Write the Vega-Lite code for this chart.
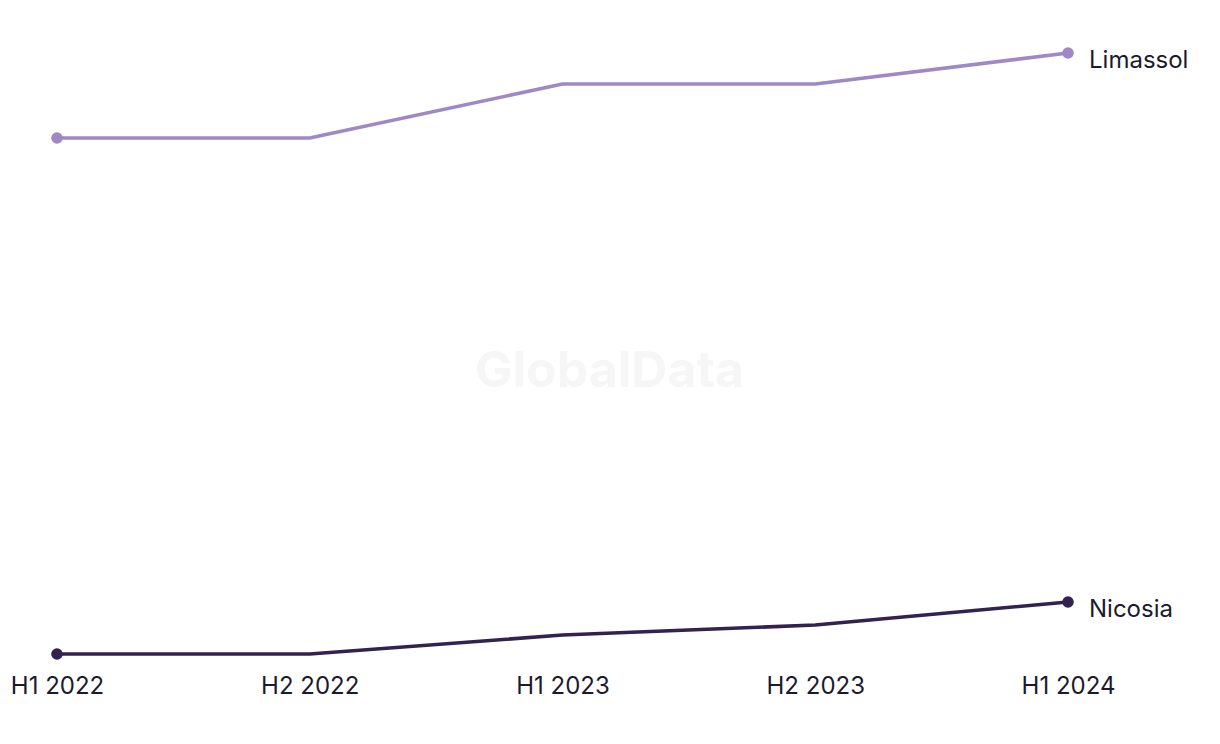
{
  "$schema": "https://vega.github.io/schema/vega-lite/v6.json",
  "autosize": "none",
  "padding": {"left": 57, "top": 53, "right": 152, "bottom": 90},
  "width": 1011,
  "height": 601,
  "background": "white",
  "config": {"view": {"stroke": null}, "font": "Inter"},
  "data": {
    "values": [
      {"period": "H1 2022", "city": "Limassol", "value": 516, "first": true, "last": false},
      {"period": "H2 2022", "city": "Limassol", "value": 516, "first": false, "last": false},
      {"period": "H1 2023", "city": "Limassol", "value": 570, "first": false, "last": false},
      {"period": "H2 2023", "city": "Limassol", "value": 570, "first": false, "last": false},
      {"period": "H1 2024", "city": "Limassol", "value": 601, "first": false, "last": true},
      {"period": "H1 2022", "city": "Nicosia", "value": 0, "first": true, "last": false},
      {"period": "H2 2022", "city": "Nicosia", "value": 0, "first": false, "last": false},
      {"period": "H1 2023", "city": "Nicosia", "value": 19, "first": false, "last": false},
      {"period": "H2 2023", "city": "Nicosia", "value": 29, "first": false, "last": false},
      {"period": "H1 2024", "city": "Nicosia", "value": 52, "first": false, "last": true}
    ]
  },
  "encoding": {
    "x": {
      "field": "period", "type": "ordinal",
      "sort": ["H1 2022", "H2 2022", "H1 2023", "H2 2023", "H1 2024"],
      "scale": {"type": "point", "padding": 0},
      "axis": {"title": null, "domain": false, "ticks": false, "grid": false, "labelAngle": 0,
        "labelFontSize": 24, "labelColor": "#1c1a2e", "labelPadding": 20, "labelFont": "Inter"}
    },
    "y": {
      "field": "value", "type": "quantitative",
      "scale": {"domain": [0, 601], "zero": false, "nice": false},
      "axis": null
    },
    "color": {
      "field": "city", "type": "nominal",
      "scale": {"domain": ["Limassol", "Nicosia"], "range": ["#a088c4", "#33214f"]},
      "legend": null
    }
  },
  "layer": [
    {
      "data": {"values": [{"period": "H1 2023", "value": 282, "t": "GlobalData"}]},
      "mark": {"type": "text", "font": "Inter", "fontWeight": "bold", "fontSize": 50, "align": "center", "baseline": "middle", "dx": 47},
      "encoding": {"text": {"field": "t"}, "color": {"value": "#f6f6f6"}}
    },
    {"mark": {"type": "line", "strokeWidth": 3.6}},
    {
      "transform": [{"filter": "datum.first || datum.last"}],
      "mark": {"type": "circle", "size": 135, "opacity": 1}
    },
    {
      "transform": [{"filter": "datum.last"}],
      "mark": {"type": "text", "align": "left", "baseline": "middle", "dx": 21, "dy": 7.5, "fontSize": 24, "font": "Inter"},
      "encoding": {"text": {"field": "city"}, "color": {"value": "#1c1a2e"}}
    }
  ]
}
